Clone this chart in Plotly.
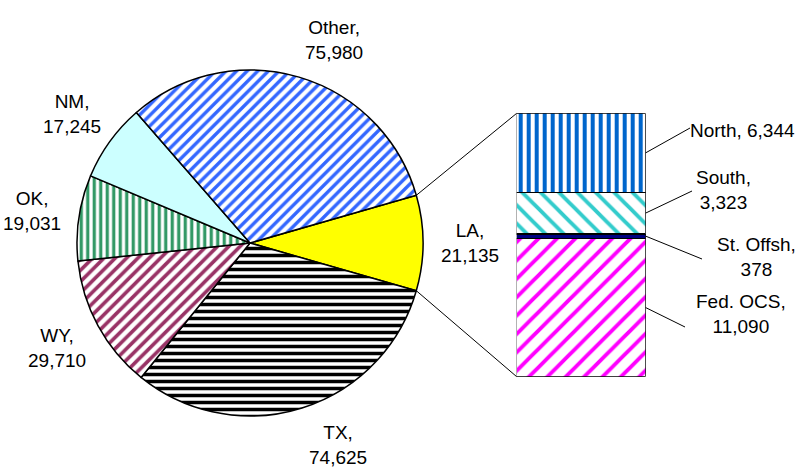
import math
import plotly.graph_objects as go

# ---------------- data ----------------
states = ["LA", "TX", "WY", "OK", "NM", "Other"]          # clockwise order
state_values = [21135, 74625, 29710, 19031, 17245, 75980]

la_parts = ["Fed. OCS", "St. Offsh", "South", "North"]    # bottom -> top
la_values = [11090, 378, 3323, 6344]

# ---------------- style / layout constants ----------------
W, H = 805, 470
FONT = dict(family="Liberation Sans, Arial, sans-serif", size=19, color="black")

CX, CY, R = 250, 243, 173          # pie centre / radius in pixels
ROTATION = 74                       # start of first slice, deg clockwise from 12 o'clock
LABEL_R = 220                       # radius for pie labels (px)
label_angle_shift = {"Other": -6, "TX": 6}

state_fill = {"LA": "#FFFF00", "TX": "white", "WY": "white", "OK": "white",
              "NM": "#CCFFFF", "Other": "white"}
state_pat = {"LA": ("", "black", 8, 0.3), "TX": ("-", "#000000", 7, 0.5),
             "WY": ("/", "#993366", 8, 0.45), "OK": ("|", "#339966", 6.5, 0.5),
             "NM": ("", "black", 8, 0.3), "Other": ("/", "#3366FF", 7.5, 0.45)}

BAR_X0, BAR_X1, BAR_TOP, BAR_BOT = 516.7, 645.7, 113.3, 376.7
part_style = {"Fed. OCS": ("white", "/", "#FF00FF", 13, 0.3),
              "St. Offsh": ("#000080", "", "#000080", 8, 0.3),
              "South": ("white", "\\", "#33CCCC", 13, 0.3),
              "North": ("white", "|", "#0066CC", 8, 0.5)}
# label centre (px) and leader-line end (px)
part_label = {"North": ((742, 130), (690, 128)),
              "South": ((723, 190), (692, 191)),
              "St. Offsh": ((756, 257), (702, 259)),
              "Fed. OCS": ((741, 314), (685, 327))}
part_text = {"North": "North, {v}", "South": "South,<br>{v}",
             "St. Offsh": "St. Offsh,<br>{v}", "Fed. OCS": "Fed. OCS,<br>{v}"}


def px(x):
    return x / W


def py(y):
    return 1 - y / H


fig = go.Figure()

# ---------------- pie ----------------
fig.add_trace(go.Pie(
    labels=states, values=state_values, sort=False, direction="clockwise",
    rotation=ROTATION, textinfo="none", hoverinfo="label+value",
    domain=dict(x=[px(CX - R), px(CX + R)], y=[py(CY + R), py(CY - R)]),
    marker=dict(
        colors=[state_fill[s] for s in states],
        line=dict(color="black", width=1.5),
        pattern=dict(shape=[state_pat[s][0] for s in states],
                     fgcolor=[state_pat[s][1] for s in states],
                     size=[state_pat[s][2] for s in states],
                     solidity=[state_pat[s][3] for s in states],
                     fgopacity=1),
    ),
    showlegend=False,
))

# ---------------- stacked bar (LA breakdown) ----------------
for name, v in zip(la_parts, la_values):
    col, shp, fg, sz, sol = part_style[name]
    fig.add_trace(go.Bar(
        x=[0], y=[v], width=1, name=name, showlegend=False,
        marker=dict(color=col, opacity=1, line=dict(color="black", width=1.5),
                    pattern=dict(shape=shp, fgcolor=fg, bgcolor=col, size=sz,
                                 solidity=sol, fgopacity=1)),
    ))

la_total = sum(la_values)
fig.update_layout(
    barmode="stack",
    width=W, height=H,
    margin=dict(l=0, r=0, t=0, b=0),
    paper_bgcolor="white", plot_bgcolor="white",
    font=FONT,
    xaxis=dict(domain=[px(BAR_X0), px(BAR_X1)], range=[-0.5, 0.5], visible=False, fixedrange=True),
    yaxis=dict(domain=[py(BAR_BOT), py(BAR_TOP)], range=[0, la_total], visible=False, fixedrange=True),
)

# ---------------- pie labels ----------------
total = sum(state_values)
start = 90 - ROTATION  # math angle (deg) of the first slice start
ang = start
edges = []
for s, v in zip(states, state_values):
    span = v / total * 360
    mid = ang - span / 2 + label_angle_shift.get(s, 0)
    edges.append((ang, ang - span))
    lx = CX + LABEL_R * math.cos(math.radians(mid))
    ly = CY - LABEL_R * math.sin(math.radians(mid))
    fig.add_annotation(x=px(lx), y=py(ly), xref="paper", yref="paper",
                       text=f"{s},<br>{v:,}", showarrow=False,
                       xanchor="center", yanchor="middle", align="center", font=FONT)
    ang -= span

# ---------------- connectors pie -> bar ----------------
la_a0, la_a1 = edges[0]
for a, by in ((la_a0, BAR_TOP), (la_a1, BAR_BOT)):
    x0 = CX + R * math.cos(math.radians(a))
    y0 = CY - R * math.sin(math.radians(a))
    fig.add_shape(type="line", xref="paper", yref="paper",
                  x0=px(x0), y0=py(y0), x1=px(BAR_X0), y1=py(by),
                  line=dict(color="black", width=1))

# ---------------- bar labels + leader lines ----------------
cum = 0
for name, v in zip(la_parts, la_values):
    mid_val = cum + v / 2
    cum += v
    (tx, ty), (ex, ey) = part_label[name]
    fig.add_shape(type="line", xref="x domain", yref="y",
                  x0=1, y0=mid_val, x1=1 + (ex - BAR_X1) / (BAR_X1 - BAR_X0),
                  y1=la_total * (BAR_BOT - ey) / (BAR_BOT - BAR_TOP),
                  line=dict(color="black", width=1))
    fig.add_annotation(x=px(tx), y=py(ty), xref="paper", yref="paper",
                       text=part_text[name].format(v=f"{v:,}"), showarrow=False,
                       xanchor="center", yanchor="middle", align="center", font=FONT)

fig.write_html("out.html", config={"displayModeBar": False},
               post_script="document.body.style.margin='0';")
